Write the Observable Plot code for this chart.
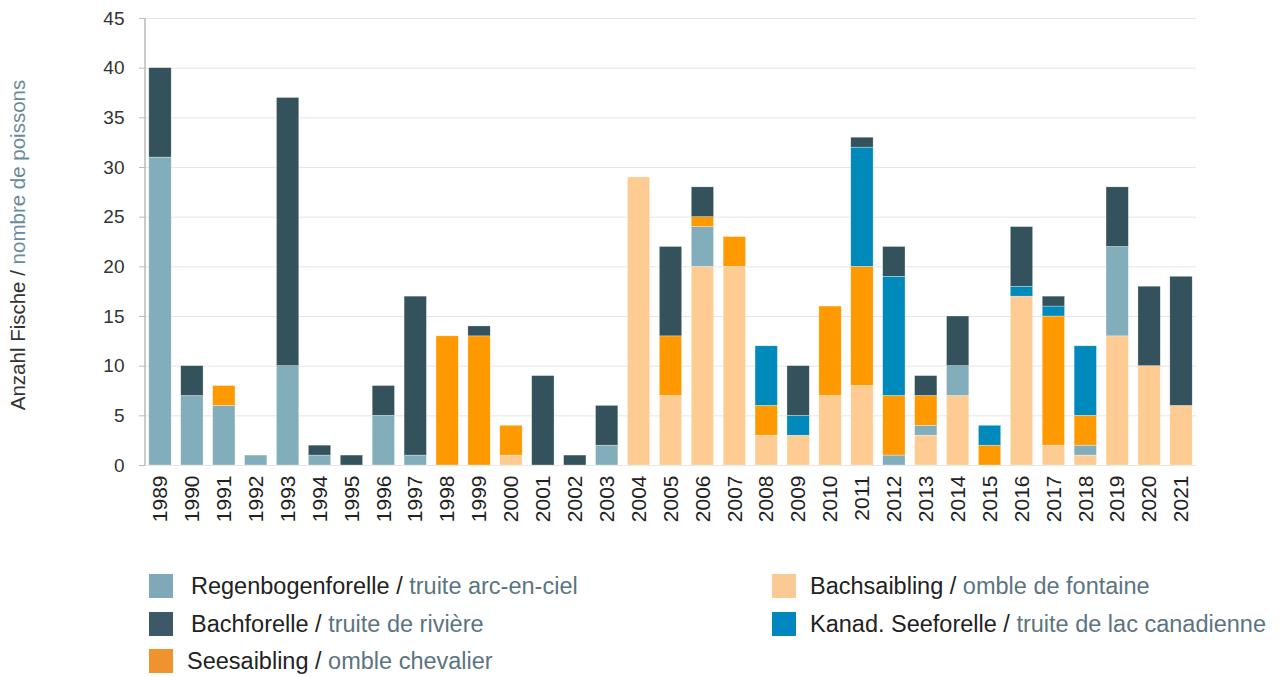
<!DOCTYPE html>
<html><head><meta charset="utf-8">
<script src="https://cdn.jsdelivr.net/npm/d3@7"></script>
<script src="https://cdn.jsdelivr.net/npm/@observablehq/plot@0.6"></script>
<style>
body{margin:0;background:#fff;font-family:"Liberation Sans",Arial,sans-serif;}
#wrap{position:relative;width:1279px;height:677px;}
.lg{position:absolute;display:flex;align-items:center;font-size:23.5px;color:#222;white-space:nowrap;height:24px;}
.sw{width:24px;height:24px;display:inline-block;flex:none;}
.fr{color:#5b7482;}
</style></head><body>
<div id="wrap"><div id="chart"></div></div>
<script>
const years = ["1989","1990","1991","1992","1993","1994","1995","1996","1997","1998","1999","2000","2001","2002","2003","2004","2005","2006","2007","2008","2009","2010","2011","2012","2013","2014","2015","2016","2017","2018","2019","2020","2021"];
const bachsaibling      = [0,0,0,0,0,0,0,0,0,0,0,1,0,0,0,29,7,20,20,3,3,7,8,0,3,7,0,17,2,1,13,10,6];
const regenbogenforelle = [31,7,6,1,10,1,0,5,1,0,0,0,0,0,2,0,0,4,0,0,0,0,0,1,1,3,0,0,0,1,9,0,0];
const seesaibling       = [0,0,2,0,0,0,0,0,0,13,13,3,0,0,0,0,6,1,3,3,0,9,12,6,3,0,2,0,13,3,0,0,0];
const kanadSeeforelle   = [0,0,0,0,0,0,0,0,0,0,0,0,0,0,0,0,0,0,0,6,2,0,12,12,0,0,2,1,1,7,0,0,0];
const bachforelle       = [9,3,0,0,27,1,1,3,16,0,1,0,9,1,4,0,9,3,0,0,5,0,1,3,2,5,0,6,1,0,6,8,13];
const yTicks = [0,5,10,15,20,25,30,35,40,45];

const species = [
  {key:"Bachsaibling", fr:"omble de fontaine", values:bachsaibling, color:"#fecc92", legend:"#fbc993"},
  {key:"Regenbogenforelle", fr:"truite arc-en-ciel", values:regenbogenforelle, color:"#82aebb", legend:"#7fa9b8"},
  {key:"Seesaibling", fr:"omble chevalier", values:seesaibling, color:"#ff9900", legend:"#f0922e"},
  {key:"Kanad. Seeforelle", fr:"truite de lac canadienne", values:kanadSeeforelle, color:"#0089bb", legend:"#0087be"},
  {key:"Bachforelle", fr:"truite de rivière", values:bachforelle, color:"#34525c", legend:"#3d5866"}
];
const data = [];
species.forEach((s, si) => years.forEach((y, i) => { if (s.values[i] > 0) data.push({year:y, species:s.key, order:si, n:s.values[i]}); }));

const plot = Plot.plot({
  width: 1279, height: 540,
  marginLeft: 145, marginRight: 83, marginTop: 18, marginBottom: 75,
  style: {fontFamily: '"Liberation Sans", Arial, sans-serif', fontSize: "19px", color: "#333", background: "#fff"},
  x: {domain: years, paddingInner: 0.3, paddingOuter: 0.12, round: false, label: null},
  y: {domain: [0, 45], label: null},
  color: {domain: species.map(s => s.key), range: species.map(s => s.color)},
  marks: [
    Plot.gridY(yTicks, {stroke: "#e6e6e6", strokeOpacity: 1, strokeWidth: 1}),
    Plot.axisY(yTicks, {tickSize: 6, tickPadding: 15, stroke: "#bbb", fill: "#333", fontSize: 19}),
    Plot.axisX({tickSize: 0, tickPadding: 10, tickRotate: -90, fontSize: 21, fill: "#222"}),
    Plot.barY(data, Plot.stackY({x: "year", y: "n", fill: "species", order: species.map(s => s.key), stroke: "#fff", strokeWidth: 0.5, strokeOpacity: 0.6})),
  ]
});
document.getElementById("chart").appendChild(plot);

// y axis line and rotated two-colour label
const ys = plot.scale("y");
const svg = d3.select(plot);
svg.append("line").attr("x1", 145).attr("x2", 145).attr("y1", ys.apply(45)).attr("y2", ys.apply(0)).attr("stroke", "#bbb").attr("stroke-width", 1.5);
const t = svg.append("text").attr("transform", `translate(25,245) rotate(-90)`)
  .attr("text-anchor", "middle").attr("font-size", 20.5).attr("fill", "#333");
t.append("tspan").text("Anzahl Fische / ");
t.append("tspan").attr("fill", "#6a8b9c").text("nombre de poissons");

// legend
const legendPos = [
  {s:1, left:149, top:574, tx:191},
  {s:4, left:149, top:612, tx:191},
  {s:2, left:149, top:649, tx:187},
  {s:0, left:772, top:574, tx:810},
  {s:3, left:772, top:612, tx:810}
];
const wrap = document.getElementById("wrap");
legendPos.forEach(p => {
  const s = species[p.s];
  const d = document.createElement("div");
  d.className = "lg";
  d.style.left = p.left + "px"; d.style.top = p.top + "px";
  d.innerHTML = `<span class="sw" style="background:${s.legend};margin-right:${p.tx - p.left - 24}px"></span><span>${s.key} / <span class="fr">${s.fr}</span></span>`;
  wrap.appendChild(d);
});
</script>
</body></html>
